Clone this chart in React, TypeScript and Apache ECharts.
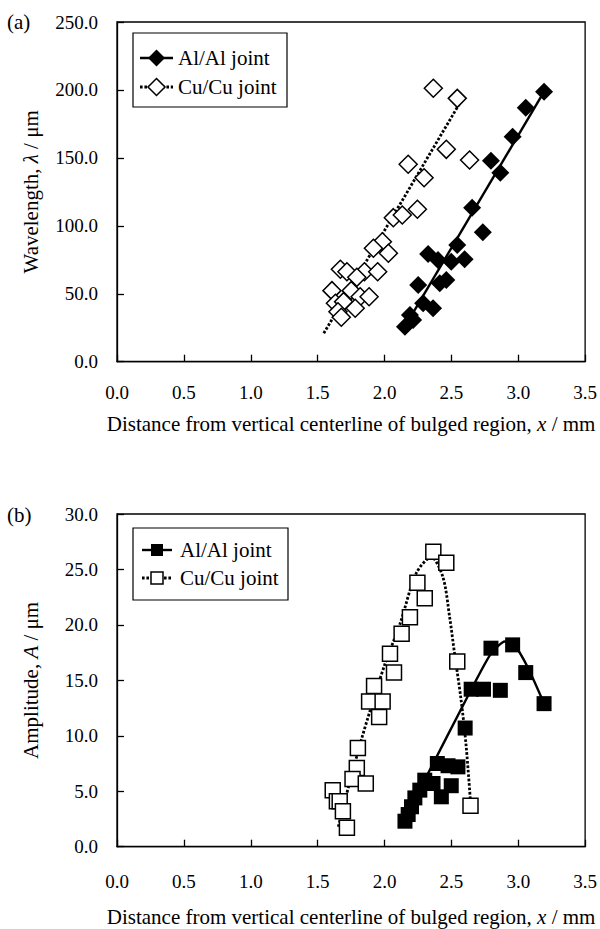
import React, { useEffect, useRef } from 'react';
import * as echarts from 'echarts';

const FONT = 'Liberation Serif';

// x axis (shared by both panels)
const X_MIN = 0;
const X_MAX = 3.5;
const X_STEP = 0.5;
// panel (a) y axis
const WL_MAX = 250;
const WL_STEP = 50;
// panel (b) y axis
const AMP_MAX = 30;
const AMP_STEP = 5;

const LEGEND_AL = 'Al/Al joint';
const LEGEND_CU = 'Cu/Cu joint';

// (a) Wavelength vs distance
const alWavelength: [number, number][] = [
  [3.193, 198.7], [3.056, 186.9], [2.958, 165.6], [2.796, 147.9], [2.866, 139.1],
  [2.655, 113.3], [2.735, 95.2], [2.544, 85.9], [2.326, 79.3], [2.4, 74.8],
  [2.599, 75.4], [2.499, 73.6], [2.462, 60.1], [2.252, 56.4], [2.413, 57.7],
  [2.289, 43.0], [2.363, 39.3], [2.19, 34.4], [2.214, 30.7], [2.153, 25.8],
];
const cuWavelength: [number, number][] = [
  [2.365, 201.2], [2.544, 193.8], [2.462, 156.3], [2.636, 148.4], [2.177, 145.3],
  [2.296, 135.4], [2.246, 112.2], [2.066, 106.0], [2.133, 108.0], [1.984, 88.3],
  [1.917, 83.5], [2.029, 79.8], [1.67, 68.0], [1.719, 66.2], [1.85, 66.2],
  [1.793, 62.1], [1.949, 66.2], [1.607, 52.3], [1.751, 52.3], [1.818, 47.8],
  [1.885, 47.8], [1.633, 43.0], [1.694, 44.2], [1.781, 39.3], [1.652, 36.8],
  [1.677, 32.7],
];
const alWavelengthFit: [number, number][] = [[2.15, 25.5], [3.193, 198.7]];
const cuWavelengthFit: [number, number][] = [[1.546, 20.9], [2.569, 191.3]];

// (b) Amplitude vs distance
const alAmplitude: [number, number][] = [
  [2.958, 18.2], [2.796, 17.9], [3.056, 15.7], [2.648, 14.2], [2.74, 14.2],
  [2.866, 14.1], [3.193, 12.9], [2.603, 10.7], [2.395, 7.5], [2.475, 7.3],
  [2.549, 7.2], [2.301, 6.0], [2.363, 5.7], [2.499, 5.5], [2.264, 5.1],
  [2.227, 4.4], [2.425, 4.5], [2.202, 3.6], [2.177, 2.9], [2.153, 2.3],
];
const cuAmplitude: [number, number][] = [
  [2.365, 26.6], [2.462, 25.6], [2.246, 23.8], [2.301, 22.4], [2.19, 20.7],
  [2.128, 19.2], [2.041, 17.4], [2.071, 15.7], [2.544, 16.7], [1.922, 14.5],
  [1.885, 13.1], [1.986, 13.1], [1.96, 11.7], [1.801, 8.9], [1.793, 7.1],
  [1.761, 6.1], [1.86, 5.7], [1.613, 5.1], [1.644, 4.1], [1.665, 4.1],
  [1.689, 3.2], [1.719, 1.7], [2.643, 3.7],
];
const alAmplitudeFit: [number, number][] = [
  [2.3, 6.0], [2.611, 13.3], [2.79, 17.3], [2.9, 18.5], [2.97, 18.2], [3.07, 16.2], [3.193, 12.9],
];
const cuAmplitudeFit: [number, number][] = [
  [1.655, 1.8], [1.731, 5.4], [1.826, 9.6], [1.893, 12.3], [2.004, 16.5], [2.116, 20.1],
  [2.239, 24.7], [2.35, 26.1], [2.437, 24.3], [2.487, 20.7], [2.524, 17.4], [2.573, 13.2],
  [2.611, 9.0], [2.645, 3.7],
];

const BLACK = '#000';
const fmt1 = (v: number) => v.toFixed(1);
const DOT_DASH = [2.6, 1.8];
const DOT_WIDTH = 2.8;
const SOLID_WIDTH = 2.4;

const titleStyle = {
  fontFamily: FONT,
  fontSize: 21,
  color: BLACK,
  rich: { i: { fontFamily: FONT, fontSize: 21, fontStyle: 'italic', color: BLACK } },
};

function xAxisCfg(gridIndex: number, labelMargin: number, nameGap: number) {
  return {
    type: 'value',
    gridIndex,
    min: X_MIN,
    max: X_MAX,
    interval: X_STEP,
    name: 'Distance from vertical centerline of bulged region, {i|x} / mm',
    nameLocation: 'middle',
    nameGap,
    nameTextStyle: titleStyle,
    axisLine: { show: true, lineStyle: { color: BLACK, width: 1.3 } },
    axisTick: { show: true, inside: true, length: 7, lineStyle: { color: BLACK, width: 1.3 } },
    axisLabel: { formatter: fmt1, margin: labelMargin, fontFamily: FONT, fontSize: 19, color: BLACK },
    splitLine: { show: false },
  };
}

function yAxisCfg(gridIndex: number, max: number, step: number, name: string) {
  return {
    type: 'value',
    gridIndex,
    min: 0,
    max,
    interval: step,
    name,
    nameLocation: 'middle',
    nameGap: 76,
    nameRotate: 90,
    nameTextStyle: titleStyle,
    axisLine: { show: true, lineStyle: { color: BLACK, width: 1.3 } },
    axisTick: { show: true, inside: true, length: 7, lineStyle: { color: BLACK, width: 1.3 } },
    axisLabel: { formatter: fmt1, margin: 19, fontFamily: FONT, fontSize: 19, color: BLACK },
    splitLine: { show: false },
  };
}

const solidFit = { color: BLACK, width: SOLID_WIDTH, type: 'solid' as const };
const dottedFit = { color: BLACK, width: DOT_WIDTH, type: DOT_DASH };

function fitSeries(name: string, idx: number, data: [number, number][], lineStyle: any, smooth: number) {
  return {
    name,
    type: 'line',
    xAxisIndex: idx,
    yAxisIndex: idx,
    data,
    symbol: 'none',
    smooth,
    silent: true,
    lineStyle,
    z: 2,
  };
}

function pointSeries(name: string, idx: number, data: [number, number][], symbol: string, size: number, filled: boolean) {
  return {
    name,
    type: 'scatter',
    xAxisIndex: idx,
    yAxisIndex: idx,
    data,
    symbol,
    symbolSize: size,
    itemStyle: filled
      ? { color: BLACK, borderWidth: 0, opacity: 1 }
      : { color: '#fff', borderColor: BLACK, borderWidth: 1.5, opacity: 1 },
    z: 3,
  };
}

// Legend drawn as a framed box (graphic), one per panel
function legendBox(
  x: number, y: number, w: number, h: number,
  rows: { cy: number; text: string; dotted: boolean; filled: boolean }[],
  lineX0: number, lineX1: number, textX: number, marker: 'diamond' | 'square', ms: number,
) {
  const children: any[] = [
    { type: 'rect', shape: { x, y, width: w, height: h }, style: { fill: '#fff', stroke: BLACK, lineWidth: 1.2 }, z: 10 },
  ];
  rows.forEach((r) => {
    const cx = (lineX0 + lineX1) / 2;
    children.push({
      type: 'line',
      shape: { x1: lineX0, y1: r.cy, x2: lineX1, y2: r.cy },
      style: { stroke: BLACK, lineWidth: r.dotted ? DOT_WIDTH : SOLID_WIDTH, lineDash: r.dotted ? DOT_DASH : null },
      z: 11,
    });
    const mStyle = r.filled
      ? { fill: BLACK, stroke: BLACK, lineWidth: 0 }
      : { fill: '#fff', stroke: BLACK, lineWidth: 1.5 };
    if (marker === 'diamond') {
      const s = ms / 2;
      children.push({
        type: 'polygon',
        shape: { points: [[cx, r.cy - s], [cx + s, r.cy], [cx, r.cy + s], [cx - s, r.cy]] },
        style: mStyle,
        z: 12,
      });
    } else {
      children.push({
        type: 'rect',
        shape: { x: cx - ms / 2, y: r.cy - ms / 2, width: ms, height: ms },
        style: mStyle,
        z: 12,
      });
    }
    children.push({
      type: 'text',
      x: textX,
      y: r.cy,
      style: { text: r.text, fontFamily: FONT, fontSize: 21, fill: BLACK, verticalAlign: 'middle', align: 'left' },
      z: 12,
    });
  });
  return { type: 'group', children };
}

export default function App() {
  const ref = useRef<HTMLDivElement>(null);
  useEffect(() => {
    if (!ref.current) return;
    const chart = echarts.init(ref.current, null, { renderer: 'svg' });
    const option: any = {
      animation: false,
      backgroundColor: '#fff',
      textStyle: { fontFamily: FONT, color: BLACK },
      grid: [
        { left: 117, top: 22, width: 471, height: 339.7, show: true, borderColor: BLACK, borderWidth: 1.3, backgroundColor: 'transparent' },
        { left: 117, top: 514, width: 471, height: 332.7, show: true, borderColor: BLACK, borderWidth: 1.3, backgroundColor: 'transparent' },
      ],
      xAxis: [xAxisCfg(0, 21, 52), xAxisCfg(1, 25, 60)],
      yAxis: [
        yAxisCfg(0, WL_MAX, WL_STEP, 'Wavelength, {i|λ} / μm'),
        yAxisCfg(1, AMP_MAX, AMP_STEP, 'Amplitude, {i|A} / μm'),
      ],
      graphic: [
        { type: 'text', left: 7, top: 11, style: { text: '(a)', fontFamily: FONT, fontSize: 21, fill: BLACK } },
        { type: 'text', left: 7, top: 504, style: { text: '(b)', fontFamily: FONT, fontSize: 21, fill: BLACK } },
        legendBox(133, 33, 154, 74, [
          { cy: 58, text: LEGEND_AL, dotted: false, filled: true },
          { cy: 87, text: LEGEND_CU, dotted: true, filled: false },
        ], 140, 173, 178, 'diamond', 17),
        legendBox(133, 528, 155, 72, [
          { cy: 550, text: LEGEND_AL, dotted: false, filled: true },
          { cy: 578, text: LEGEND_CU, dotted: true, filled: false },
        ], 142, 172, 180, 'square', 12),
      ],
      series: [
        fitSeries('aAlFit', 0, alWavelengthFit, solidFit, 0),
        fitSeries('aCuFit', 0, cuWavelengthFit, dottedFit, 0),
        pointSeries(LEGEND_AL, 0, alWavelength, 'diamond', 18, true),
        pointSeries(LEGEND_CU, 0, cuWavelength, 'diamond', 18, false),
        fitSeries('bAlFit', 1, alAmplitudeFit, solidFit, 0.2),
        fitSeries('bCuFit', 1, cuAmplitudeFit, dottedFit, 0.3),
        pointSeries(LEGEND_AL, 1, alAmplitude, 'rect', 15, true),
        pointSeries(LEGEND_CU, 1, cuAmplitude, 'rect', 15, false),
      ],
    };
    chart.setOption(option);
    return () => chart.dispose();
  }, []);
  return (
    <div
      ref={ref}
      style={{ position: 'absolute', left: 0, top: 0, width: 600, height: 929, background: '#fff' }}
    />
  );
}
